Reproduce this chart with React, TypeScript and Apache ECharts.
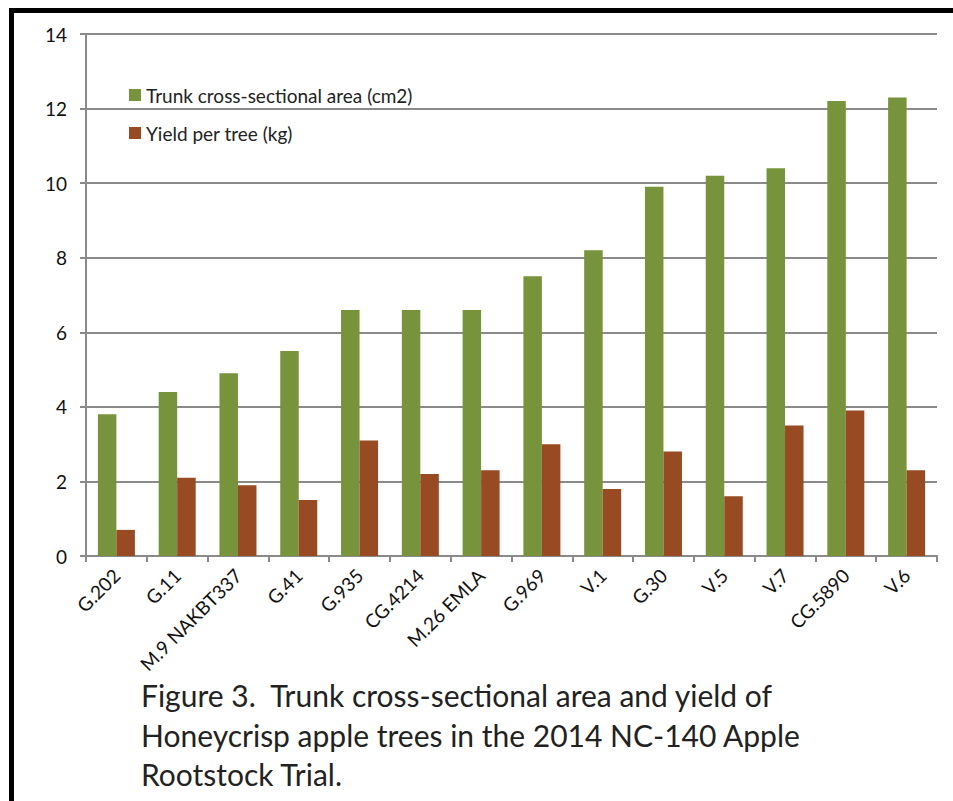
import React, { useEffect, useRef } from "react";
import * as echarts from "echarts";

const rootstocks = [
  "G.202", "G.11", "M.9 NAKBT337", "G.41", "G.935", "CG.4214", "M.26 EMLA",
  "G.969", "V.1", "G.30", "V.5", "V.7", "CG.5890", "V.6",
];
const trunkArea = [3.8, 4.4, 4.9, 5.5, 6.6, 6.6, 6.6, 7.5, 8.2, 9.9, 10.2, 10.4, 12.2, 12.3];
const yieldPerTree = [0.7, 2.1, 1.9, 1.5, 3.1, 2.2, 2.3, 3.0, 1.8, 2.8, 1.6, 3.5, 3.9, 2.3];
const seriesNames = ["Trunk cross-sectional area (cm2)", "Yield per tree (kg)"];
const captionLines = [
  "Figure 3.  Trunk cross-sectional area and yield of",
  "Honeycrisp apple trees in the 2014 NC-140 Apple",
  "Rootstock Trial.",
];

const FONT = "Lato, 'Open Sans', sans-serif";
const GRID_GRAY = "#8a8a8a";

export default function App() {
  const ref = useRef<HTMLDivElement>(null);

  useEffect(() => {
    if (!ref.current) return;
    const chart = echarts.init(ref.current, undefined, { renderer: "svg" });
    chart.setOption({
      animation: false,
      backgroundColor: "#ffffff",
      textStyle: { fontFamily: FONT },
      grid: { left: 86, right: 16, top: 34, bottom: 245, containLabel: false },
      legend: {
        orient: "vertical",
        left: 129,
        top: 85.5,
        padding: 0,
        itemWidth: 12,
        itemHeight: 12,
        itemGap: 19,
        icon: "rect",
        textStyle: { fontFamily: FONT, fontSize: 19, color: "#222" },
        data: seriesNames,
      },
      xAxis: {
        type: "category",
        data: rootstocks,
        axisLine: { lineStyle: { color: GRID_GRAY, width: 2 } },
        axisTick: { show: true, length: 6, lineStyle: { color: GRID_GRAY, width: 2 } },
        axisLabel: {
          rotate: 45,
          margin: 16,
          fontFamily: FONT,
          fontSize: 19,
          color: "#111",
          interval: 0,
        },
      },
      yAxis: {
        type: "value",
        min: 0,
        max: 14,
        interval: 2,
        axisLine: { show: true, lineStyle: { color: GRID_GRAY, width: 2 } },
        axisTick: { show: true, length: 6, lineStyle: { color: GRID_GRAY, width: 2 } },
        splitLine: { lineStyle: { color: GRID_GRAY, width: 2 } },
        axisLabel: { margin: 19, fontFamily: FONT, fontSize: 19, color: "#111" },
      },
      series: [
        {
          name: seriesNames[0],
          type: "bar",
          data: trunkArea,
          barWidth: 18.5,
          barGap: "0%",
          itemStyle: { color: "#77933c" },
        },
        {
          name: seriesNames[1],
          type: "bar",
          data: yieldPerTree,
          barWidth: 18.5,
          barGap: "0%",
          itemStyle: { color: "#984a22" },
        },
      ],
      graphic: [
        { type: "rect", shape: { x: 9, y: 8, width: 944, height: 5 }, style: { fill: "#000" } },
        { type: "rect", shape: { x: 9, y: 8, width: 5, height: 793 }, style: { fill: "#000" } },
        ...captionLines.map((line, i) => ({
          type: "text",
          x: 141,
          y: 710 + i * 39.5,
          style: {
            text: line,
            fontFamily: FONT,
            fontSize: 30,
            fill: "#222",
            textVerticalAlign: "bottom",
            textBaseline: "alphabetic",
          },
        })),
      ],
    });
    return () => chart.dispose();
  }, []);

  return (
    <div
      ref={ref}
      style={{ position: "fixed", left: 0, top: 0, width: 953, height: 801 }}
    />
  );
}
